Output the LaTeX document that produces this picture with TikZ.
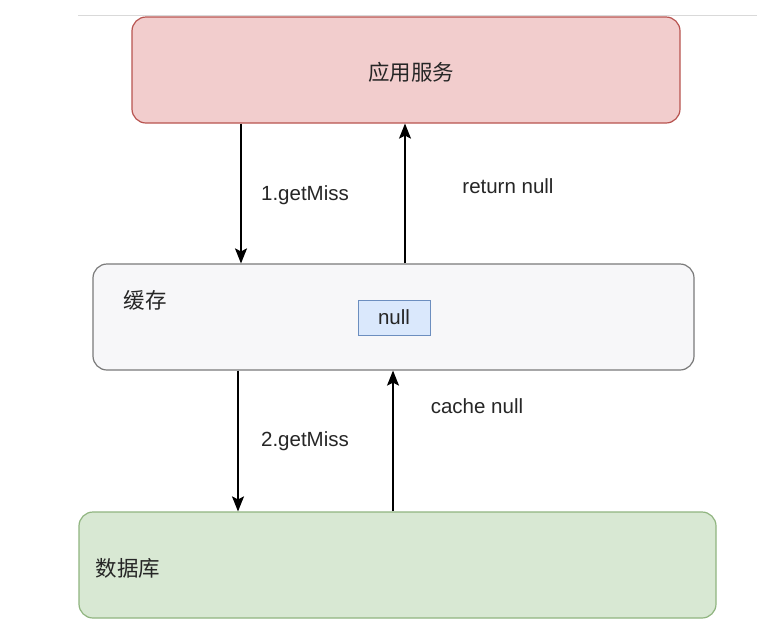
\documentclass[tikz,border=0pt]{standalone}
\usepackage{fontspec}
\setmainfont{Liberation Sans}
\newfontfamily\cjk{Noto Sans CJK SC}
\usetikzlibrary{arrows.meta}
\definecolor{redfill}{HTML}{F2CDCD}
\definecolor{redline}{HTML}{B85450}
\definecolor{greyfill}{HTML}{F7F7F9}
\definecolor{greyline}{HTML}{7A7A7A}
\definecolor{bluefill}{HTML}{DAE8FC}
\definecolor{blueline}{HTML}{6C8EBF}
\definecolor{greenfill}{HTML}{D8E8D3}
\definecolor{greenline}{HTML}{90B580}
\tikzset{
  layer/.style={draw, rounded corners=14pt, line width=1.2pt, inner sep=0pt},
  lbl/.style={font=\fontsize{20.5}{24}\selectfont, text=black!85},
  cjklbl/.style={font=\cjk\fontsize{21.5}{26}\selectfont, text=black!85},
  arr/.style={line width=1.3pt, -{Stealth[length=15pt,width=12pt,inset=3pt]}},
}
\begin{document}
\begin{tikzpicture}[x=1pt,y=-1pt]
\useasboundingbox (0,0) rectangle (774,638);
\fill[white] (0,0) rectangle (774,638);
\coordinate (rl) at (78,15);
\coordinate (rr) at (757,15);
\draw[black!15, line width=1pt] (rl) -- (rr);
\node[layer, fill=redfill, draw=redline, minimum width=548pt, minimum height=106pt] (app) at (406,70) {};
\node[cjklbl] (appt) at (411,72) {应用服务};
\node[layer, fill=greyfill, draw=greyline, minimum width=601pt, minimum height=106pt] (cache) at (393.5,317) {};
\node[cjklbl] (cachet) at (145,300) {缓存};
\node[draw=blueline, fill=bluefill, line width=1pt, minimum width=72pt, minimum height=35pt, inner sep=0pt, lbl] (nullb) at (394,317.5) {null};
\node[layer, fill=greenfill, draw=greenline, minimum width=637pt, minimum height=106pt] (db) at (397.5,565) {};
\node[cjklbl] (dbt) at (128,568) {数据库};
\draw[arr] (app.south -| 241,0) -- (cache.north -| 241,0);
\draw[arr] (cache.north -| 405,0) -- (app.south -| 405,0);
\draw[arr] (cache.south -| 238,0) -- (db.north -| 238,0);
\draw[arr] (db.north -| 393,0) -- (cache.south -| 393,0);
\node[lbl] (l1) at (305,195) {1.getMiss};
\node[lbl] (l2) at (508,186) {return null};
\node[lbl] (l3) at (305,441) {2.getMiss};
\node[lbl] (l4) at (477,406) {cache null};
\end{tikzpicture}
\end{document}
